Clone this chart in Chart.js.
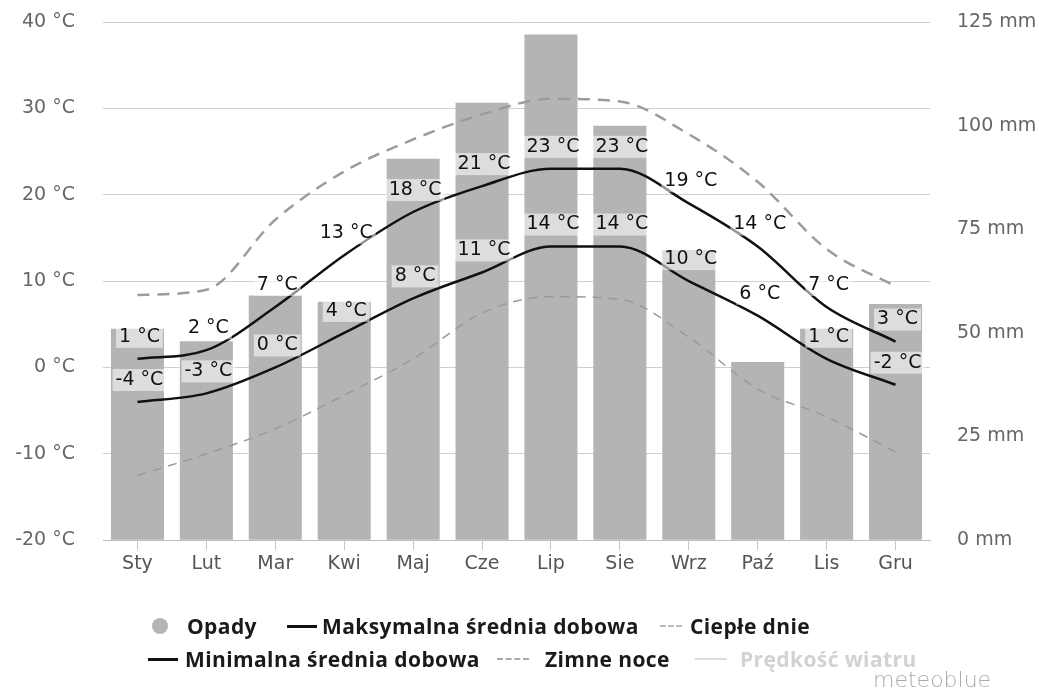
<!DOCTYPE html>
<html>
<head>
<meta charset="utf-8">
<script src="https://cdn.jsdelivr.net/npm/chart.js@4.4.0/dist/chart.umd.min.js"></script>
<style>
html,body{margin:0;padding:0;background:#fff;}
#wrap{position:relative;width:1039px;height:695px;overflow:hidden;}
#c{position:absolute;left:0;top:0;}
.item{position:absolute;font-family:"Open Sans",sans-serif;font-weight:700;font-size:21px;letter-spacing:0.4px;color:#1a1a1a;line-height:26px;white-space:nowrap;}
.sym{position:absolute;}
#brand{position:absolute;left:873px;top:667px;font-family:"DejaVu Sans",sans-serif;font-size:22px;color:#aaa;font-weight:300;}
</style>
</head>
<body>
<div id="wrap">
<canvas id="c" width="1039" height="695"></canvas>
<div id="legend"></div>
<div id="brand">meteoblue</div>
</div>
<script>
const months = ['Sty','Lut','Mar','Kwi','Maj','Cze','Lip','Sie','Wrz','Paź','Lis','Gru'];
const precipitation = [51,48,59,57.5,92,105.5,122,100,70,43,51,57];
const maxTemp = [1,2,7,13,18,21,23,23,19,14,7,3];
const minTemp = [-4,-3,0,4,8,11,14,14,10,6,1,-2];
const warmDays = [8.4,9.0,17.1,22.7,26.4,29.3,31.1,30.8,27,21.5,13.7,9.4];
const coldNights = [-12.5,-10,-7.1,-3.2,1.0,6.3,8.2,7.9,3.5,-2.5,-5.7,-9.8];
const tempTicks = [-20,-10,0,10,20,30,40];
const precipTicks = [0,25,50,75,100,125];
const seriesNames = ['Opady','Maksymalna średnia dobowa','Ciepłe dnie','Minimalna średnia dobowa','Zimne noce','Prędkość wiatru'];

const valueLabels = {
  id: 'valueLabels',
  afterDatasetsDraw(chart) {
    const ctx = chart.ctx;
    chart.data.datasets.forEach((ds, i) => {
      if (!ds.valueLabels) return;
      const meta = chart.getDatasetMeta(i);
      ctx.save();
      ctx.font = '19px "DejaVu Sans"';
      ctx.textAlign = 'center';
      ctx.textBaseline = 'middle';
      meta.data.forEach((pt, j) => {
        const txt = ds.data[j] + ' °C';
        const w = ctx.measureText(txt).width;
        const x = pt.x + 2, y = pt.y - 22;
        ctx.fillStyle = 'rgba(255,255,255,0.55)';
        ctx.fillRect(x - w / 2 - 3, y - 11, w + 6, 22);
        ctx.fillStyle = '#111';
        ctx.fillText(txt, x, y);
      });
      ctx.restore();
    });
  }
};

const tickFont = {family: '"DejaVu Sans"', size: 19};

const chart = new Chart(document.getElementById('c'), {
  data: {
    labels: months,
    datasets: [
      {type: 'line', label: seriesNames[1], data: maxTemp, yAxisID: 'yT', borderColor: '#111', borderWidth: 2.5,
       pointRadius: 0, cubicInterpolationMode: 'monotone', order: 1, valueLabels: true},
      {type: 'line', label: seriesNames[3], data: minTemp, yAxisID: 'yT', borderColor: '#111', borderWidth: 2.5,
       pointRadius: 0, cubicInterpolationMode: 'monotone', order: 1, valueLabels: true},
      {type: 'line', label: seriesNames[2], data: warmDays, yAxisID: 'yT', borderColor: '#9c9c9c', borderWidth: 2.5,
       borderDash: [12, 8], pointRadius: 0, cubicInterpolationMode: 'monotone', order: 2},
      {type: 'line', label: seriesNames[4], data: coldNights, yAxisID: 'yT', borderColor: '#9a9a9a', borderWidth: 1.5,
       borderDash: [9, 7], pointRadius: 0, cubicInterpolationMode: 'monotone', order: 2},
      {type: 'bar', label: seriesNames[0], data: precipitation, yAxisID: 'yP', backgroundColor: '#b4b4b4',
       categoryPercentage: 1, barPercentage: 0.77, order: 10}
    ]
  },
  options: {
    responsive: false,
    animation: false,
    events: [],
    layout: {padding: {top: 22, bottom: 118, left: 0, right: 0}},
    plugins: {legend: {display: false}, tooltip: {enabled: false}},
    scales: {
      x: {
        offset: true,
        grid: {offset: false, drawOnChartArea: false, drawTicks: true, tickLength: 10, color: '#c8c8c8'},
        border: {color: '#bdbdbd'},
        ticks: {color: '#555', font: tickFont, padding: 2}
      },
      yT: {
        position: 'left', min: -20, max: 40,
        afterBuildTicks: s => { s.ticks = tempTicks.map(v => ({value: v})); },
        afterFit: s => { s.width = 103; s.paddingTop = 0; s.paddingBottom = 0; },
        ticks: {color: '#666', font: tickFont, padding: 28, callback: v => v + ' °C'},
        grid: {color: '#cfcfcf', drawTicks: false},
        border: {display: false}
      },
      yP: {
        position: 'right', min: 0, max: 125,
        afterBuildTicks: s => { s.ticks = precipTicks.map(v => ({value: v})); },
        afterFit: s => { s.width = 109; s.paddingTop = 0; s.paddingBottom = 0; },
        ticks: {color: '#666', font: tickFont, padding: 27, callback: v => v + ' mm'},
        grid: {drawOnChartArea: false, drawTicks: false},
        border: {display: false}
      }
    }
  },
  plugins: [valueLabels]
});

// HTML legend built from series names
const legendItems = [
  {name: seriesNames[0], kind: 'circle', sx: 152, tx: 187, y: 613},
  {name: seriesNames[1], kind: 'solid', sx: 287, tx: 322, y: 613},
  {name: seriesNames[2], kind: 'dashWarm', sx: 660, tx: 690, y: 613},
  {name: seriesNames[3], kind: 'solid', sx: 148, tx: 185, y: 646},
  {name: seriesNames[4], kind: 'dashCold', sx: 497, tx: 545, y: 646},
  {name: seriesNames[5], kind: 'wind', sx: 695, tx: 740, y: 646}
];
const lg = document.getElementById('legend');
legendItems.forEach(it => {
  const t = document.createElement('div');
  t.className = 'item';
  t.textContent = it.name;
  t.style.left = it.tx + 'px';
  t.style.top = it.y + 'px';
  if (it.kind === 'wind') { t.style.color = '#d2d2d2'; }
  lg.appendChild(t);
  const s = document.createElement('div');
  s.className = 'sym';
  const cy = it.y + 13;
  if (it.kind === 'circle') {
    Object.assign(s.style, {left: it.sx + 'px', top: (cy - 8) + 'px', width: '16px', height: '16px', borderRadius: '50%', background: '#b4b4b4'});
  } else if (it.kind === 'solid') {
    Object.assign(s.style, {left: it.sx + 'px', top: (cy - 1.5) + 'px', width: '30px', height: '3px', background: '#111'});
  } else if (it.kind === 'dashWarm') {
    Object.assign(s.style, {left: it.sx + 'px', top: (cy - 1) + 'px', width: '22px', height: '0', borderTop: '2.5px dashed #bbb'});
  } else if (it.kind === 'dashCold') {
    Object.assign(s.style, {left: it.sx + 'px', top: (cy - 1) + 'px', width: '32px', height: '0', borderTop: '2px dashed #aaa'});
  } else {
    Object.assign(s.style, {left: it.sx + 'px', top: (cy - 1) + 'px', width: '32px', height: '2px', background: '#ddd'});
  }
  lg.appendChild(s);
});
</script>
</body>
</html>
